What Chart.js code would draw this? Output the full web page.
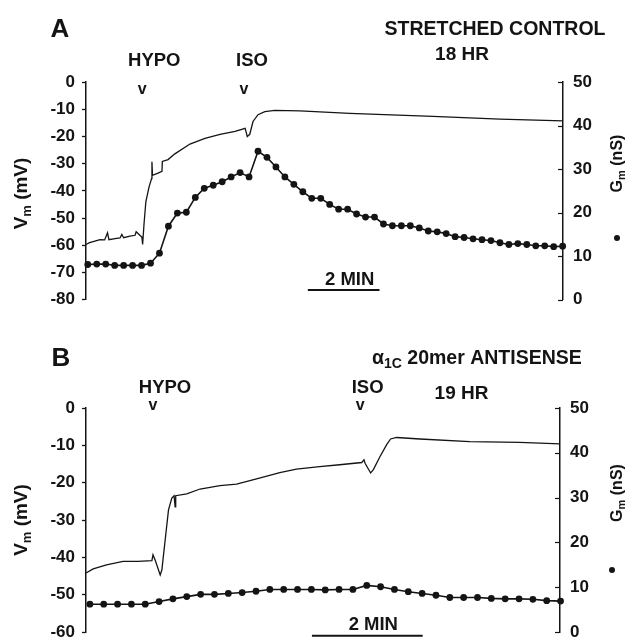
<!DOCTYPE html>
<html><head><meta charset="utf-8">
<script src="https://cdn.jsdelivr.net/npm/chart.js@4.4.1/dist/chart.umd.min.js"></script>
<style>
html,body{margin:0;padding:0;background:#fff;overflow:hidden;width:631px;height:638px;position:relative}
canvas{position:absolute;left:0}
#cA{top:0}
#cB{top:320px}
</style></head><body>
<canvas id="cA" width="631" height="320"></canvas>
<canvas id="cB" width="631" height="340"></canvas>
<script>
// ================= DATA =================
// Panel A — stretched control, 18 hr. Time in minutes.
const vmTimeA = [0,0.10,0.20,0.39,0.52,0.60,0.64,0.81,0.95,1.00,1.05,1.23,1.37,1.40,1.51,1.56,1.58,1.62,1.67,1.76,1.83,1.84,1.855,2.01,2.12,2.13,2.29,2.48,2.90,3.32,3.74,4.16,4.44,4.47,4.50,4.57,4.66,4.80,4.99,5.27,5.97,7.36,9.68,11.55,13.31];
const vmA = [-59.7,-59.0,-58.6,-57.9,-58.0,-55.4,-57.9,-57.5,-57.3,-56.0,-57.2,-56.6,-56.3,-55.0,-56.4,-57.0,-59.7,-52.0,-44.0,-38.5,-35.5,-29.3,-34.3,-33.5,-32.8,-29.2,-28.5,-26.4,-22.8,-20.7,-19.2,-18.1,-17.0,-18.5,-20.0,-19.2,-14.5,-12.0,-10.9,-10.4,-10.6,-11.5,-12.6,-13.6,-14.3];
const gmTimeA = [0.05,0.30,0.55,0.80,1.05,1.30,1.55,1.80,2.05,2.30,2.55,2.80,3.05,3.30,3.55,3.80,4.05,4.30,4.55,4.80,5.05,5.30,5.55,5.80,6.05,6.30,6.55,6.80,7.05,7.30,7.55,7.80,8.05,8.30,8.55,8.80,9.05,9.30,9.55,9.80,10.05,10.30,10.55,10.80,11.05,11.30,11.55,11.80,12.05,12.30,12.55,12.80,13.05,13.30];
const gmA = [8.1,8.2,8.2,7.9,7.9,7.9,7.9,8.4,10.7,16.9,19.9,20.1,23.5,25.6,26.3,27.1,28.2,29.2,28.2,34.1,32.7,30.5,28.2,26.5,24.8,23.3,23.3,21.9,20.8,20.8,19.7,19.0,19.0,17.4,17.0,17.0,17.0,16.5,15.8,15.6,15.2,14.5,14.3,14.0,13.8,13.6,13.1,12.7,12.9,12.7,12.4,12.4,12.2,12.3];
const vmTicksA = [0,-10,-20,-30,-40,-50,-60,-70,-80];
const markersA = [{label:'HYPO', t:1.57}, {label:'ISO', t:4.41}];
const scaleBarA = {start:6.19, minutes:2, level:-76.4, label:'2 MIN'};
const titleA = ['STRETCHED CONTROL', '18 HR'];

// Panel B — α1C 20mer antisense, 19 hr. Time in minutes.
const vmTimeB = [0,0.13,0.37,0.67,0.94,1.19,1.21,1.25,1.34,1.37,1.43,1.49,1.55,1.59,1.61,1.62,1.82,2.06,2.42,2.72,3.08,3.50,3.80,4.22,4.58,4.98,5.02,5.04,5.14,5.19,5.31,5.43,5.50,5.61,6.03,6.93,7.83,8.56];
const vmB = [-44.2,-43.1,-42.0,-41.1,-41.1,-40.9,-39.3,-40.8,-44.7,-43.4,-35.3,-27.3,-24.1,-23.5,-26.5,-23.5,-23.0,-21.7,-20.8,-20.4,-19.0,-17.3,-16.4,-15.7,-15.2,-14.6,-13.9,-14.8,-17.4,-16.5,-13.0,-9.8,-8.3,-7.9,-8.3,-9.0,-9.2,-9.6];
const gmTimeB = [0.07,0.32,0.57,0.82,1.07,1.32,1.57,1.82,2.07,2.32,2.57,2.82,3.07,3.32,3.57,3.82,4.07,4.32,4.57,4.82,5.07,5.32,5.57,5.82,6.07,6.32,6.57,6.82,7.07,7.32,7.57,7.82,8.07,8.32,8.57];
const gmB = [6.2,6.2,6.2,6.2,6.2,6.8,7.4,7.9,8.4,8.4,8.6,8.8,9.1,9.5,9.5,9.5,9.5,9.4,9.5,9.5,10.4,10.1,9.5,9.0,8.6,8.2,7.7,7.7,7.7,7.5,7.4,7.4,7.3,7.0,6.9];
const vmTicksB = [0,-10,-20,-30,-40,-50,-60];
const markersB = [{label:'HYPO', t:1.21}, {label:'ISO', t:4.95}];
const scaleBarB = {start:4.08, minutes:2, level:-61.0, label:'2 MIN'};
const titleB = ['α', '1C', ' 20mer ANTISENSE', '19 HR'];

const gmTicks = [0,10,20,30,40,50];

// ================= DRAWING =================
const ink = '#141414';
const FAMILY = '"Liberation Sans", Arial, Helvetica, sans-serif';
const WEIGHT = 'bold';

function drawRuns(ctx, runs, x, yCenter, align) {
  let total = 0;
  runs.forEach(r => { ctx.font = `${WEIGHT} ${r.size}px ${FAMILY}`; r.w = ctx.measureText(r.text).width; total += r.w; });
  let cx = align === 'center' ? x - total / 2 : (align === 'right' ? x - total : x);
  const base = yCenter + 0.716 * runs[0].size / 2;
  ctx.textAlign = 'left'; ctx.textBaseline = 'alphabetic';
  runs.forEach(r => { ctx.font = `${WEIGHT} ${r.size}px ${FAMILY}`; ctx.fillText(r.text, cx, base + (r.shift || 0)); cx += r.w; });
}
function drawText(ctx, s, size, x, y, align) { drawRuns(ctx, [{text:s, size:size}], x, y, align || 'center'); }
function drawVertical(ctx, runs, cx, cy) {
  ctx.save(); ctx.translate(cx, cy); ctx.rotate(-Math.PI / 2);
  drawRuns(ctx, runs, 0, 0, 'center'); ctx.restore();
}

function annotations(P) {
  return {
    id: 'ann' + P.letter,
    afterDatasetsDraw(chart) {
      const ctx = chart.ctx, xs = chart.scales.x, yV = chart.scales.yV, yG = chart.scales.yG, a = chart.chartArea;
      ctx.save();
      ctx.fillStyle = ink; ctx.strokeStyle = ink;
      // inward tick marks on the right (Gm) axis
      ctx.lineWidth = 1.2;
      gmTicks.forEach(v => {
        const y = Math.round(yG.getPixelForValue(v)) + 0.5;
        ctx.beginPath(); ctx.moveTo(a.right - 5, y); ctx.lineTo(a.right, y); ctx.stroke();
      });
      // panel letter
      drawText(ctx, P.letter, 26, P.letterPos[0], P.letterPos[1]);
      // stimulus markers
      P.markers.forEach((m, i) => {
        const x = xs.getPixelForValue(m.t);
        ctx.font = `${WEIGHT} 16px ${FAMILY}`; ctx.textAlign = 'center'; ctx.textBaseline = 'alphabetic';
        ctx.fillText('v', x, P.vY + 4.5);
        drawText(ctx, m.label, 18.5, x + P.labelDx[i], P.labelY);
      });
      // scale bar label
      const sb = P.scaleBar;
      const bx = (xs.getPixelForValue(sb.start) + xs.getPixelForValue(sb.start + sb.minutes)) / 2;
      drawText(ctx, sb.label, 18.5, bx + 6, yV.getPixelForValue(sb.level) - 12);
      // titles
      P.drawTitle(ctx);
      // axis titles
      drawVertical(ctx, [{text:'V', size:19}, {text:'m', size:13, shift:4}, {text:' (mV)', size:19}], 20, P.vmLabelY);
      drawVertical(ctx, [{text:'G', size:16}, {text:'m', size:11, shift:3.5}, {text:' (nS)', size:16}], 616, P.gmLabelY);
      ctx.beginPath(); ctx.arc(P.dotPos[0], P.dotPos[1], 3, 0, Math.PI * 2); ctx.fill();
      ctx.restore();
    }
  };
}

function buildChart(id, P) {
  const tickFont = {family: FAMILY, size: 17, weight: WEIGHT};
  return new Chart(document.getElementById(id), {
    type: 'line',
    data: { datasets: [
      { data: P.vmTime.map((t, i) => ({x: t, y: P.vm[i]})), yAxisID: 'yV', borderColor: ink, borderWidth: 1.3, pointRadius: 0, tension: 0, clip: false },
      { data: P.gmTime.map((t, i) => ({x: t, y: P.gm[i]})), yAxisID: 'yG', borderColor: ink, borderWidth: 1.6, pointRadius: 3.4, pointBackgroundColor: ink, pointBorderWidth: 0, tension: 0, clip: false },
      { data: [{x: P.scaleBar.start, y: P.scaleBar.level}, {x: P.scaleBar.start + P.scaleBar.minutes, y: P.scaleBar.level}], yAxisID: 'yV', borderColor: ink, borderWidth: 1.8, pointRadius: 0, clip: false }
    ]},
    options: {
      responsive: false, animation: false, events: [],
      layout: {padding: {left: 0, right: 0, top: P.padTop, bottom: P.padBottom}},
      plugins: {legend: {display: false}, tooltip: {enabled: false}},
      scales: {
        x: {type: 'linear', display: false, min: 0, max: P.tMax},
        yV: {
          position: 'left', min: P.vmTicks[P.vmTicks.length - 1], max: P.vmTicks[0],
          afterBuildTicks(s) { s.ticks = P.vmTicks.map(v => ({value: v})); },
          ticks: {color: ink, font: tickFont, padding: 7, callback: v => String(v)},
          grid: {drawOnChartArea: false, drawTicks: true, tickLength: 4, tickColor: ink, tickWidth: 1.3},
          border: {display: true, color: ink, width: 1.5},
          afterFit(s) { s.width = 86; }
        },
        yG: {
          position: 'right', min: gmTicks[0], max: gmTicks[gmTicks.length - 1],
          afterBuildTicks(s) { s.ticks = gmTicks.map(v => ({value: v})); },
          ticks: {color: ink, font: tickFont, padding: 10, callback: v => String(v)},
          grid: {drawOnChartArea: false, drawTicks: false},
          border: {display: true, color: ink, width: 1.5},
          afterFit(s) { s.width = P.rightW; }
        }
      }
    },
    plugins: [annotations(P)]
  });
}

buildChart('cA', {
  letter: 'A', vmTime: vmTimeA, vm: vmA, gmTime: gmTimeA, gm: gmA, vmTicks: vmTicksA,
  markers: markersA, scaleBar: scaleBarA, tMax: 13.31,
  padTop: 82, padBottom: 17, rightW: 68,
  letterPos: [60, 27.5], vY: 89, labelY: 59.5, labelDx: [12, 8],
  vmLabelY: 193.5, gmLabelY: 163.5, dotPos: [617, 238],
  drawTitle(ctx) {
    drawText(ctx, titleA[0], 19.5, 495, 28);
    drawText(ctx, titleA[1], 19, 462, 53.5);
  }
});

buildChart('cB', {
  letter: 'B', vmTime: vmTimeB, vm: vmB, gmTime: gmTimeB, gm: gmB, vmTicks: vmTicksB,
  markers: markersB, scaleBar: scaleBarB, tMax: 8.56,
  padTop: 88, padBottom: 28, rightW: 71,
  letterPos: [61, 36.5], vY: 85.5, labelY: 66.3, labelDx: [12, 7.5],
  vmLabelY: 200, gmLabelY: 173, dotPos: [612, 250],
  drawTitle(ctx) {
    drawRuns(ctx, [{text: titleB[0], size: 19.5}, {text: titleB[1], size: 14, shift: 4}, {text: titleB[2], size: 19.5}], 372, 37.5, 'left');
    drawText(ctx, titleB[3], 19, 461.5, 72.5);
  }
});
</script>
</body></html>
